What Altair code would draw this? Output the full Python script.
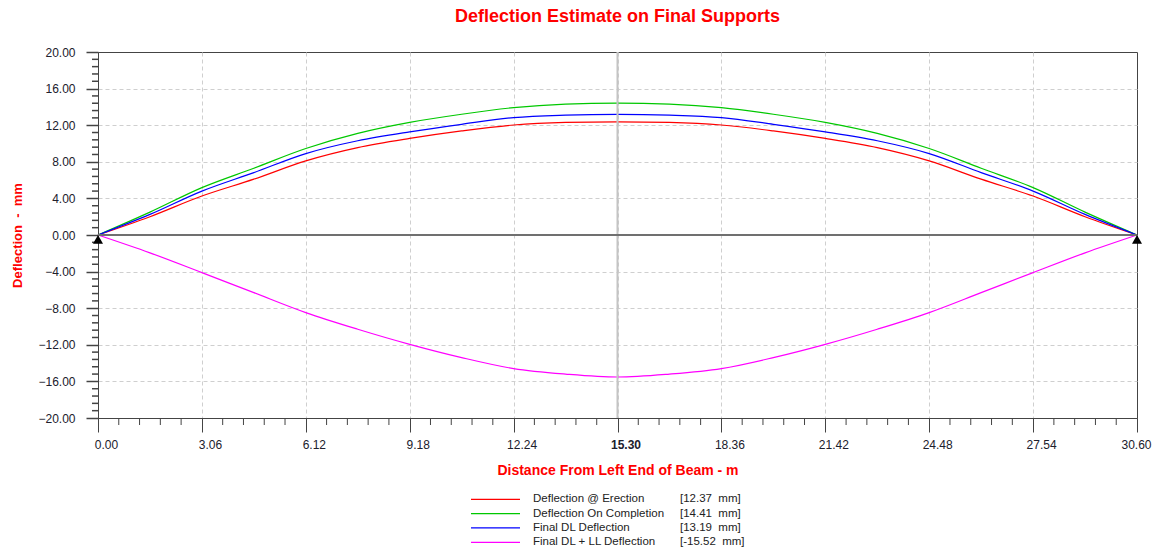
import altair as alt
import pandas as pd

# ---------------- data ----------------
x_m = [0.00, 1.53, 3.06, 4.59, 6.12, 7.65, 9.18, 10.71, 12.24, 13.77, 15.30,
       16.83, 18.36, 19.89, 21.42, 22.95, 24.48, 26.01, 27.54, 29.07, 30.60]
erection = [0, 2.0, 4.26, 6.1, 8.1, 9.55, 10.55, 11.37, 12.02, 12.3, 12.37,
            12.3, 12.02, 11.37, 10.55, 9.55, 8.1, 6.1, 4.26, 2.0, 0]
completion = [0, 2.5, 5.18, 7.3, 9.45, 11.1, 12.3, 13.2, 13.92, 14.3, 14.41,
              14.3, 13.92, 13.2, 12.3, 11.1, 9.45, 7.3, 5.18, 2.5, 0]
final_dl = [0, 2.25, 4.8, 6.82, 8.9, 10.3, 11.28, 12.1, 12.83, 13.1, 13.19,
            13.1, 12.83, 12.1, 11.28, 10.3, 8.9, 6.82, 4.8, 2.25, 0]
final_dl_ll = [0, -1.95, -4.11, -6.3, -8.48, -10.3, -11.95, -13.4, -14.6, -15.2, -15.52,
               -15.2, -14.6, -13.4, -11.95, -10.3, -8.48, -6.3, -4.11, -1.95, 0]

series_names = ["Deflection @ Erection", "Deflection On Completion",
                "Final DL Deflection", "Final DL + LL Deflection"]
series_values = ["[12.37\u00a0 mm]", "[14.41\u00a0 mm]", "[13.19\u00a0 mm]", "[-15.52\u00a0 mm]"]
series_colors = ["#ff0000", "#00c800", "#0000ff", "#ff00ff"]

support_x = [0.00, 30.60]
support_y = [0.00, 0.00]
centre_x = [15.30]

x_major_ticks = [0.00, 3.06, 6.12, 9.18, 12.24, 15.30, 18.36, 21.42, 24.48, 27.54, 30.60]
y_major_ticks = [-20, -16, -12, -8, -4, 0, 4, 8, 12, 16, 20]

# minor ticks: 4 between each pair of majors
x_minor_ticks = [round(a + k * 0.612, 3) for a in x_major_ticks[:-1] for k in range(1, 5)]
y_minor_ticks = [round(a + k * 0.8, 2) for a in y_major_ticks[:-1] for k in range(1, 5)]

# ---------------- tables ----------------
rows = []
all_series = [erection, completion, final_dl, final_dl_ll]
for name, col, vals in zip(series_names, series_colors, all_series):
    for xv, yv in zip(x_m, vals):
        rows.append({"series": name, "color": col, "x": xv, "y": yv})
lines_df = pd.DataFrame(rows)

support_df = pd.DataFrame({"x": support_x, "y": support_y})
zero_df = pd.DataFrame({"y": [0]})
centre_df = pd.DataFrame({"x": centre_x})
xminor_df = pd.DataFrame({"x": x_minor_ticks})
yminor_df = pd.DataFrame({"y": y_minor_ticks})

FONT = "Liberation Sans"
LABEL_COLOR = "#20202c"
TITLE_RED = "#ff0000"
AX = "#444444"

W, H = 1039, 366

xscale = alt.Scale(domain=[0, 30.6], nice=False, zero=False)
yscale = alt.Scale(domain=[-20, 20], nice=False, zero=False)

x_axis = alt.Axis(
    values=x_major_ticks, tickCount=50, format=".2f",
    labelFont=FONT, labelFontSize=12, labelColor=LABEL_COLOR,
    labelFontWeight=alt.condition("datum.value > 15.29 && datum.value < 15.31",
                                  alt.value("bold"), alt.value("normal")),
    labelAlign="center",
    labelOffset=alt.condition("datum.value > 30", alt.value(-1), alt.value(8)),
    labelPadding=7,
    labelOverlap=False, labelFlush=False,
    tickSize=14, tickColor=AX, tickWidth=1,
    domainColor=AX,
    grid=True, gridColor="#cfcfcf", gridDash=[4, 3], gridWidth=1,
    gridOpacity=alt.condition("datum.value > 30.5 || datum.value < 0.1",
                              alt.value(0), alt.value(1)),
    title="Distance From Left End of Beam - m",
    titleFont=FONT, titleFontSize=14, titleFontWeight="bold", titleColor=TITLE_RED,
    titleX=W / 2, titleY=52, titleAlign="center", titleBaseline="middle",
)

y_axis = alt.Axis(
    values=y_major_ticks, tickCount=50, format=".2f",
    labelFont=FONT, labelFontSize=12, labelColor=LABEL_COLOR,
    labelPadding=11, labelOverlap=False, labelFlush=False,
    tickSize=12, tickColor=AX, tickWidth=1.5,
    domainColor=AX,
    grid=True, gridColor="#cfcfcf", gridDash=[4, 3], gridWidth=1,
    gridOpacity=alt.condition("datum.value > 19.9 || datum.value < -19.9",
                              alt.value(0), alt.value(1)),
    title="Deflection\u00a0 -\u00a0 mm",
    titleFont=FONT, titleFontSize=13, titleFontWeight="bold", titleColor=TITLE_RED,
    titleX=-81, titleY=H / 2, titleAngle=270, titleAlign="center", titleBaseline="middle",
)

lines = alt.Chart(lines_df).mark_line(strokeWidth=1.2, interpolate="monotone").encode(
    x=alt.X("x:Q", scale=xscale, axis=x_axis),
    y=alt.Y("y:Q", scale=yscale, axis=y_axis),
    color=alt.Color("color:N", scale=None),
    detail="series:N",
)

centre_rule = alt.Chart(centre_df).mark_rule(color="#c4c4c4", strokeWidth=2).encode(
    x=alt.X("x:Q", scale=xscale),
)

zero_rule = alt.Chart(zero_df).mark_rule(color="#707070", strokeWidth=1.8).encode(
    y=alt.Y("y:Q", scale=yscale),
)

x_minor = alt.Chart(xminor_df).mark_rule(color=AX, strokeWidth=1).encode(
    x=alt.X("x:Q", scale=xscale),
    y=alt.value(H), y2=alt.value(H + 7),
)
y_minor = alt.Chart(yminor_df).mark_rule(color=AX, strokeWidth=1.5).encode(
    y=alt.Y("y:Q", scale=yscale),
    x=alt.value(-6), x2=alt.value(0),
)

supports = alt.Chart(support_df).mark_point(
    shape="triangle-up", filled=True, color="black", opacity=1, size=100, yOffset=4.3
).encode(
    x=alt.X("x:Q", scale=xscale),
    y=alt.Y("y:Q", scale=yscale),
)

# legend rows (positions are layout, entries come from the arrays)
legend_layers = []
for i, (nm, vl, col) in enumerate(zip(series_names, series_values, series_colors)):
    row_df = pd.DataFrame({"name": [nm], "val": [vl]})
    ypix = 447.3 + 14.33 * i
    legend_layers.append(
        alt.Chart(row_df).mark_rule(color=col, strokeWidth=1.2).encode(
            x=alt.value(373), x2=alt.value(422), y=alt.value(ypix))
    )
    legend_layers.append(
        alt.Chart(row_df).mark_text(align="left", baseline="middle", font=FONT,
                                    fontSize=11.5, color="#222222").encode(
            x=alt.value(435), y=alt.value(ypix), text="name:N")
    )
    legend_layers.append(
        alt.Chart(row_df).mark_text(align="left", baseline="middle", font=FONT,
                                    fontSize=11.5, color="#222222").encode(
            x=alt.value(582), y=alt.value(ypix), text="val:N")
    )

chart = alt.layer(
    lines, centre_rule, zero_rule, x_minor, y_minor, supports, *legend_layers
).properties(
    width=W, height=H,
    autosize=alt.AutoSizeParams(type="none"),
    padding={"left": 98, "top": 52, "right": 22, "bottom": 131},
    background="white",
    title=alt.TitleParams(
        text="Deflection Estimate on Final Supports",
        font=FONT, fontSize=18, fontWeight="bold", color=TITLE_RED,
        anchor="middle", frame="group", offset=20,
    ),
).configure_view(stroke=AX, strokeWidth=1)

chart.save("out.html", embed_options={"renderer": "svg", "actions": False})
